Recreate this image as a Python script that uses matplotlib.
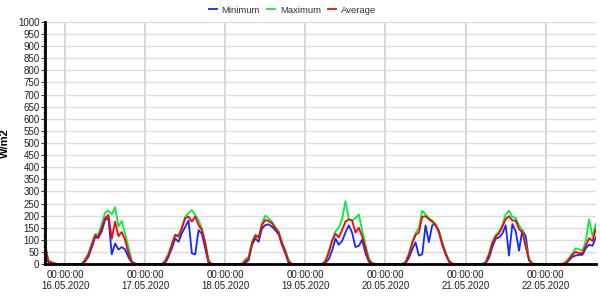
import numpy as np
import pandas as pd
import matplotlib
matplotlib.use("Agg")
import matplotlib.pyplot as plt
import matplotlib.dates as mdates
from matplotlib.ticker import MultipleLocator

plt.rcParams['font.family'] = ['Liberation Sans', 'DejaVu Sans']

# hourly irradiance readings (W/m2), 15.05 18:00 .. 22.05 15:00
min15 = [45, 8, 4, 1, 0, 0]
max15 = [88, 15, 8, 3, 0, 0]
avg15 = [78, 12, 6, 2, 0, 0]

min16 = [0, 0, 0, 0, 0, 0, 10, 30, 68, 110, 108, 135, 182, 190, 40, 85, 60, 70, 60, 28, 5, 0, 0, 0]
max16 = [0, 0, 0, 0, 0, 0, 20, 45, 85, 124, 122, 165, 212, 220, 205, 235, 155, 178, 125, 70, 12, 2, 0, 0]
avg16 = [0, 0, 0, 0, 0, 0, 15, 37, 77, 118, 113, 150, 190, 203, 105, 175, 115, 132, 100, 45, 9, 1, 0, 0]

min17 = [0, 0, 0, 0, 0, 0, 3, 30, 65, 106, 92, 127, 154, 180, 44, 40, 140, 125, 65, 3, 0, 0, 0, 0]
max17 = [0, 0, 0, 0, 0, 0, 16, 44, 85, 122, 120, 154, 196, 210, 223, 202, 182, 147, 92, 16, 0, 0, 0, 0]
avg17 = [0, 0, 0, 0, 0, 0, 10, 37, 78, 120, 113, 147, 189, 196, 175, 196, 161, 140, 85, 10, 0, 0, 0, 0]

min18 = [0, 0, 0, 0, 0, 0, 5, 16, 78, 106, 92, 147, 161, 164, 154, 140, 122, 78, 44, 3, 0, 0, 0, 0]
max18 = [0, 0, 0, 0, 0, 0, 20, 30, 92, 122, 113, 168, 200, 189, 175, 154, 134, 92, 58, 16, 0, 0, 0, 0]
avg18 = [0, 0, 0, 0, 0, 0, 12, 23, 85, 117, 109, 161, 182, 178, 168, 147, 131, 85, 51, 10, 0, 0, 0, 0]

min19 = [0, 0, 0, 0, 0, 0, 5, 20, 55, 105, 80, 95, 130, 160, 130, 70, 75, 100, 45, 10, 0, 0, 0, 0]
max19 = [0, 0, 0, 0, 0, 0, 15, 55, 100, 135, 150, 185, 260, 185, 180, 190, 205, 140, 80, 25, 5, 0, 0, 0]
avg19 = [0, 0, 0, 0, 0, 0, 10, 45, 95, 125, 110, 140, 175, 185, 180, 130, 150, 115, 65, 15, 2, 0, 0, 0]

min20 = [0, 0, 0, 0, 0, 0, 3, 25, 60, 90, 35, 40, 160, 90, 160, 165, 130, 80, 40, 10, 0, 0, 0, 0]
max20 = [0, 0, 0, 0, 0, 0, 10, 44, 92, 127, 150, 220, 205, 190, 180, 165, 140, 92, 51, 16, 3, 0, 0, 0]
avg20 = [0, 0, 0, 0, 0, 0, 5, 37, 85, 120, 130, 195, 198, 185, 175, 160, 134, 85, 44, 12, 1, 0, 0, 0]

min21 = [0, 0, 0, 0, 0, 0, 3, 25, 70, 105, 110, 125, 160, 35, 165, 135, 55, 140, 115, 15, 0, 0, 0, 0]
max21 = [0, 0, 0, 0, 0, 0, 10, 44, 92, 120, 134, 161, 205, 220, 195, 190, 160, 140, 80, 23, 3, 0, 0, 0]
avg21 = [0, 0, 0, 0, 0, 0, 5, 37, 85, 113, 127, 154, 185, 198, 180, 180, 145, 130, 72, 16, 1, 0, 0, 0]

min22 = [0, 0, 0, 0, 0, 0, 3, 15, 30, 35, 38, 38, 65, 80, 75, 110]
max22 = [0, 0, 0, 0, 0, 0, 10, 25, 45, 65, 60, 55, 95, 185, 115, 165]
avg22 = [0, 0, 0, 0, 0, 0, 5, 20, 38, 50, 45, 45, 75, 107, 95, 145]

minimum = min15 + min16 + min17 + min18 + min19 + min20 + min21 + min22
maximum = max15 + max16 + max17 + max18 + max19 + max20 + max21 + max22
average = avg15 + avg16 + avg17 + avg18 + avg19 + avg20 + avg21 + avg22

times = pd.date_range("2020-05-15 18:00", periods=len(minimum), freq="h")
midnights = pd.date_range("2020-05-16", "2020-05-22", freq="D")

fig = plt.figure(figsize=(6.0, 2.97), dpi=100)
ax = fig.add_axes([0.075, 0.111, 0.918, 0.815])

ax.plot(times, minimum, color="#1428ff", lw=1.3, label="Minimum")
ax.plot(times, maximum, color="#00f03c", lw=1.3, label="Maximum")
ax.plot(times, average, color="#ff0000", lw=1.3, label="Average")

ax.set_xlim(times[0], times[-1])
ax.set_ylim(0, 1000)
ax.yaxis.set_major_locator(MultipleLocator(50))
ax.yaxis.set_minor_locator(MultipleLocator(10))
ax.set_xticks(midnights)
ax.xaxis.set_major_formatter(mdates.DateFormatter("%H:%M:%S\n%d.%m.%Y"))

ax.grid(axis="y", color="#dcdcdc", lw=1.0)
ax.grid(axis="x", color="#d4d4d4", lw=1.3)
ax.set_axisbelow(True)

for s in ["top", "right"]:
    ax.spines[s].set_visible(False)
ax.spines["left"].set_linewidth(2)
ax.spines["bottom"].set_linewidth(2)

ax.tick_params(axis="y", which="major", labelsize=7, length=3, width=0.8, colors="#333333", pad=1)
ax.tick_params(axis="y", which="minor", length=1.5, width=0.5, colors="#555555")
ax.tick_params(axis="x", labelsize=7, length=0, colors="#333333", pad=4)
for lbl in ax.get_yticklabels() + ax.get_xticklabels():
    lbl.set_color("#222222")

ax.set_ylabel("W/m2", fontsize=8, fontweight="bold", labelpad=6)

leg = fig.legend(loc="upper center", bbox_to_anchor=(0.487, 1.01), ncol=3, frameon=False,
                 fontsize=6.8, handlelength=0.9, handletextpad=0.5, columnspacing=0.7)
for t in leg.get_texts():
    t.set_color("#333333")

fig.savefig("out.png", dpi=100)
